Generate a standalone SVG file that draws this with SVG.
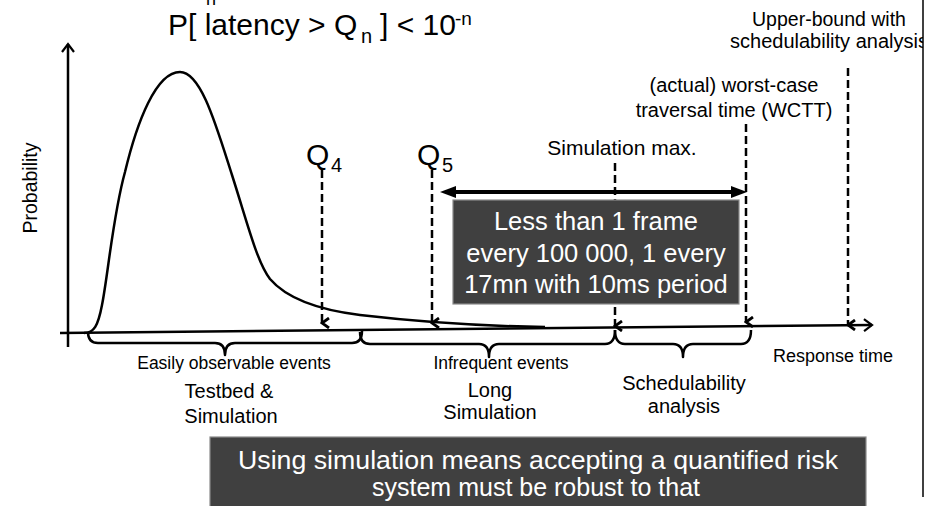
<svg xmlns="http://www.w3.org/2000/svg" width="946" height="506" viewBox="0 0 946 506">
<style>
text{font-family:"Liberation Sans",Arial,sans-serif;fill:#000}
.ax{stroke:#000;stroke-width:2.5;fill:none}
.dash{stroke:#000;stroke-width:2.5;fill:none;stroke-dasharray:8 4}
.brace{stroke:#000;stroke-width:2.5;fill:none;stroke-linejoin:round}
.box{fill:#404040;stroke:#8a8a8a;stroke-width:1.2}
.wt{fill:#fff}
.m{text-anchor:middle}
</style>
<defs>
<marker id="vd" viewBox="0 0 12 12" refX="6" refY="10" markerWidth="12" markerHeight="12" markerUnits="userSpaceOnUse" orient="auto-start-reverse">
<polyline points="1,3 6,10 11,3" fill="none" stroke="#000" stroke-width="2.8"/>
</marker>
<marker id="open" viewBox="0 0 16 16" refX="14" refY="8" markerWidth="16" markerHeight="16" markerUnits="userSpaceOnUse" orient="auto">
<polyline points="6,2 14,8 6,14" fill="none" stroke="#000" stroke-width="2.2"/>
</marker>
<clipPath id="cr"><rect x="0" y="0" width="923" height="506"/></clipPath>
</defs>

<g id="title">
<text x="206" y="5" font-size="18">n</text>
<text x="168" y="35" font-size="30">P[ latency &gt; Q</text>
<text x="361" y="43" font-size="20">n</text>
<text x="380" y="35" font-size="30">] &lt; 10</text>
<text x="455" y="25" font-size="19">-n</text>
</g>

<g id="axes">
<line class="ax" x1="68" y1="347" x2="68" y2="44" marker-end="url(#open)"/>
<line class="ax" x1="60" y1="333" x2="872" y2="325" marker-end="url(#open)"/>
<text transform="translate(37,188) rotate(-90)" class="m" font-size="19.5">Probability</text>
<text x="773" y="362" font-size="18">Response time</text>
</g>

<g id="curve">
<path class="ax" d="M84,333 C94,333 98,326 102,305 C108,275 113,215 125,172 C137,122 156,72 180,72 C201,72 216,125 232,175 C248,225 257,262 270,279 C288,300 320,310 360,315 C420,322 480,326 545,327"/>
</g>

<g id="connectors">
<line class="dash" x1="322" y1="170" x2="322" y2="323" marker-end="url(#vd)"/>
<line class="dash" x1="432" y1="170" x2="432" y2="323" marker-end="url(#vd)"/>
<line class="dash" x1="615" y1="163" x2="615" y2="326" marker-end="url(#vd)"/>
<line class="dash" x1="746" y1="124" x2="746" y2="322" marker-end="url(#vd)"/>
<line class="dash" x1="848" y1="68" x2="848" y2="325" marker-end="url(#vd)"/>
<line stroke="#000" stroke-width="4" x1="454" y1="192" x2="733" y2="192"/>
<path d="M440,192 L456,186 L456,198 Z"/>
<path d="M747,192 L731,186 L731,198 Z"/>
</g>

<g id="q4">
<text x="306" y="165" font-size="30">Q</text>
<text x="331" y="172" font-size="20">4</text>
</g>
<g id="q5">
<text x="417" y="165" font-size="30">Q</text>
<text x="442" y="172" font-size="20">5</text>
</g>
<g id="simmax"><text x="622" y="155" class="m" font-size="21">Simulation max.</text></g>
<g id="wctt">
<text x="734" y="92" class="m" font-size="20">(actual) worst-case</text>
<text x="734" y="117" class="m" font-size="20">traversal time (WCTT)</text>
</g>
<g id="upper" clip-path="url(#cr)">
<text x="829" y="26" class="m" font-size="19.5">Upper-bound with</text>
<text x="829" y="48" class="m" font-size="20">schedulability analysis</text>
</g>

<g id="framebox">
<rect class="box" x="453" y="200" width="286" height="104"/>
<text x="596" y="230" class="m wt" font-size="25.5">Less than 1 frame</text>
<text x="596" y="262" class="m wt" font-size="25.5">every 100 000, 1 every</text>
<text x="596" y="293" class="m wt" font-size="25.5">17mn with 10ms period</text>
</g>

<g id="braces">
<path class="brace" d="M88,332 Q88,343 98,343 L215,343 Q225,343 225,355 Q225,343 235,343 L352,343 Q362,343 362,331"/>
<path class="brace" d="M360,332 Q360,344 370,344 L479,344 Q489,344 489,357 Q489,344 499,344 L605,344 Q615,344 615,330"/>
<path class="brace" d="M615,330 Q615,344 625,344 L673,344 Q683,344 683,357 Q683,344 693,344 L741,344 Q751,344 751,330"/>
</g>

<g id="easily">
<text x="234" y="369" class="m" font-size="17.5">Easily observable events</text>
<text x="229" y="398" class="m" font-size="20">Testbed &amp;</text>
<text x="231" y="423" class="m" font-size="20">Simulation</text>
</g>
<g id="infrequent">
<text x="501" y="369" class="m" font-size="17.5">Infrequent events</text>
<text x="490" y="397" class="m" font-size="20">Long</text>
<text x="490" y="419" class="m" font-size="20">Simulation</text>
</g>
<g id="sched">
<text x="684" y="390" class="m" font-size="20">Schedulability</text>
<text x="684" y="413" class="m" font-size="20">analysis</text>
</g>

<g id="riskbox">
<rect class="box" x="210" y="437" width="656" height="75"/>
<text x="538" y="469" class="m wt" font-size="26" textLength="600" lengthAdjust="spacingAndGlyphs">Using simulation means accepting a quantified risk</text>
<text x="536" y="496" class="m wt" font-size="26" textLength="328" lengthAdjust="spacingAndGlyphs">system must be robust to that</text>
</g>

<line id="rightline" x1="923" y1="0" x2="923" y2="497" stroke="#000" stroke-width="1.5"/>
</svg>
